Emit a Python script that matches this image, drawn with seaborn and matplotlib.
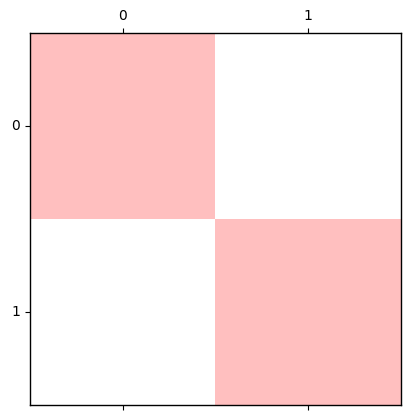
import numpy as np
import matplotlib
matplotlib.use("Agg")
import matplotlib.pyplot as plt
import seaborn as sns
from matplotlib.colors import ListedColormap

# 2x2 matrix values
rows = [0, 1]
cols = [0, 1]
values = np.array([[1, 0],
                   [0, 1]])

cmap = ListedColormap(["#ffffff", "#ffbfbf"])

fig = plt.figure(figsize=(4.1, 4.2), dpi=100)
ax = fig.add_axes([30 / 410, 15 / 420, 371 / 410, 372 / 420])
sns.heatmap(values, ax=ax, cmap=cmap, cbar=False, vmin=0, vmax=1,
            xticklabels=cols, yticklabels=rows)

for s in ax.spines.values():
    s.set_visible(True)
    s.set_color("black")
    s.set_linewidth(1.0)

ax.tick_params(axis="x", top=True, bottom=True, labeltop=True, labelbottom=False,
               length=3.5, width=0.8, labelsize=10)
ax.tick_params(axis="y", left=True, length=3.5, width=0.8, labelsize=10, rotation=0)
plt.setp(ax.get_xticklabels(), rotation=0)

fig.savefig("out.png", dpi=100)
